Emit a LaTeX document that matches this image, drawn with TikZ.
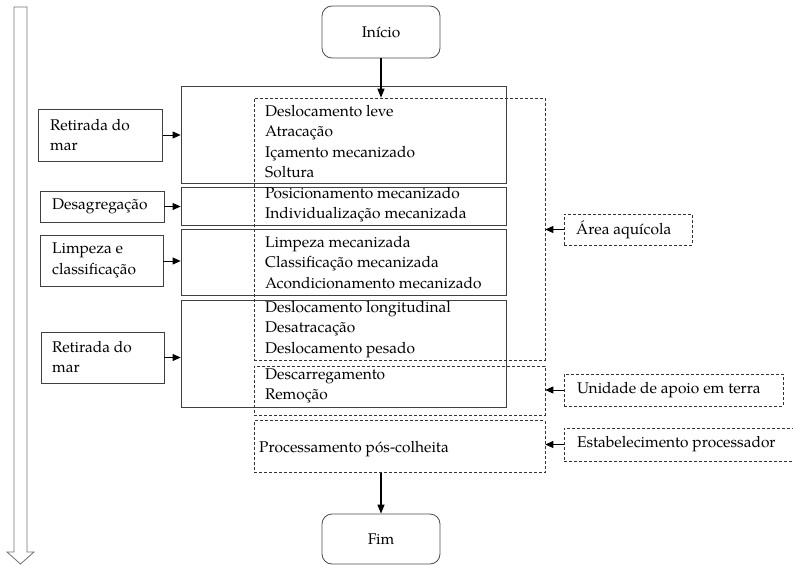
\documentclass[tikz,border=0pt]{standalone}
\usepackage{fontspec}
\setmainfont{TeX Gyre Pagella}
\usetikzlibrary{arrows.meta}
\begin{document}
\begin{tikzpicture}[x=1pt,y=-1pt,
  every node/.style={font=\fontsize{15.5}{20.4}\selectfont},
  solidbox/.style={draw=black!75, line width=0.8pt, rectangle, inner sep=0pt},
  dashbox/.style={draw=black!80, line width=0.6pt, dash pattern=on 3pt off 2pt, rectangle, inner sep=0pt},
  roundbox/.style={draw=black!70, line width=0.8pt, rectangle, rounded corners=10pt, inner sep=0pt},
  txt/.style={inner sep=0pt, align=left, anchor=west},
  mainarrow/.style={line width=1.2pt, -{Triangle[length=9pt,width=7pt]}},
  sidearrow/.style={line width=0.8pt, -{Triangle[length=8pt,width=7pt]}}
]
\useasboundingbox (0,0) rectangle (793,565);

% big hollow arrow on the left
\draw[black!55, line width=0.8pt] (14,7) -- (27,7) -- (27,552) -- (34,552) -- (20.5,564) -- (7,552) -- (14,552) -- cycle;

% start / end
\node[roundbox, minimum width=118pt, minimum height=52pt] (inicio) at (381,32) {Início};
\node[roundbox, minimum width=118pt, minimum height=50pt] (fim) at (381,539) {Fim};

% solid boxes
\node[solidbox, minimum width=325pt, minimum height=97pt] (b1) at (343.5,134.5) {};
\node[solidbox, minimum width=325pt, minimum height=38pt] (b2) at (343.5,206) {};
\node[solidbox, minimum width=325pt, minimum height=66pt] (b3) at (343.5,262) {};
\node[solidbox, minimum width=325pt, minimum height=107pt] (b4) at (343.5,353.5) {};

% dashed areas
\node[dashbox, minimum width=291pt, minimum height=262pt] (aqui) at (399.5,229) {};
\node[dashbox, minimum width=291pt, minimum height=49pt] (terra) at (399.5,390.5) {};
\node[dashbox, minimum width=291pt, minimum height=52pt] (proc) at (399.5,446.5) {};

% inner texts
\node[txt] (t1) at (265,141.5) {Deslocamento leve\\Atracação\\Içamento mecanizado\\Soltura};
\node[txt] (t2) at (265,204.5) {Posicionamento mecanizado\\Individualização mecanizada};
\node[txt] (t3) at (265,262.5) {Limpeza mecanizada\\Classificação mecanizada\\Acondicionamento mecanizado};
\node[txt] (t4) at (265,329.5) {Deslocamento longitudinal\\Desatracação\\Deslocamento pesado};
\node[txt] (t5) at (265,386) {Descarregamento\\Remoção};
\node[txt] (t6) at (259,449) {Processamento pós-colheita};

% left boxes
\node[solidbox, minimum width=124pt, minimum height=52pt] (ret1) at (100.5,135) {};
\node[txt] at (50,135) {Retirada do\\mar};
\node[solidbox, minimum width=124pt, minimum height=31pt] (desag) at (102,206.5) {};
\node[txt] at (52,206.5) {Desagregação};
\node[solidbox, minimum width=123pt, minimum height=51pt] (limp) at (101.5,261) {};
\node[txt] at (52,260.5) {Limpeza e\\classificação};
\node[solidbox, minimum width=123pt, minimum height=51pt] (ret2) at (102.5,357.5) {};
\node[txt] at (52,357) {Retirada do\\mar};

% right boxes
\node[dashbox, minimum width=128pt, minimum height=31pt] (area) at (628,229.5) {};
\node[txt] at (576,229.5) {Área aquícola};
\node[dashbox, minimum width=219pt, minimum height=32pt] (unid) at (673.5,390) {};
\node[txt] at (577,390) {Unidade de apoio em terra};
\node[dashbox, minimum width=229pt, minimum height=33pt] (estab) at (678.5,444.5) {};
\node[txt] at (577,444.5) {Estabelecimento processador};

% connectors
\draw[mainarrow] (inicio.south) -- (inicio.south |- aqui.north);
\draw[mainarrow] (fim.north |- proc.south) -- (fim.north);

\draw[sidearrow] (ret1.east) -- (ret1.east -| b1.west);
\draw[sidearrow] (desag.east) -- (desag.east -| b2.west);
\draw[sidearrow] (limp.east) -- (limp.east -| b3.west);
\draw[sidearrow] (ret2.east) -- (ret2.east -| b4.west);

\draw[sidearrow] (area.west) -- (area.west -| aqui.east);
\draw[sidearrow] (unid.west) -- (unid.west -| terra.east);
\draw[sidearrow] (estab.west) -- (estab.west -| proc.east);
\end{tikzpicture}
\end{document}
